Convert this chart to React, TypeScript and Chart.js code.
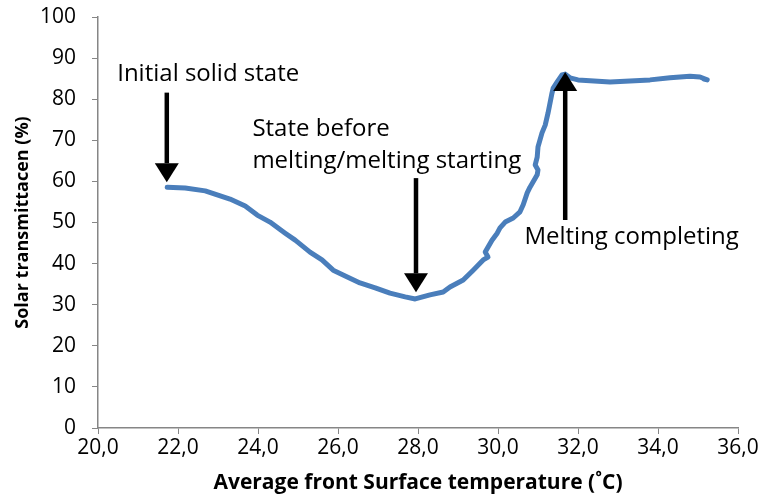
import React, { useEffect, useRef } from "react";
import { Chart, registerables } from "chart.js";

Chart.register(...registerables);

const temperature = [
  21.73, 22.18, 22.68, 23.3, 23.68, 23.98, 24.3, 24.68, 24.93, 25.3, 25.6, 25.88,
  26.18, 26.55, 26.93, 27.3, 27.68, 27.93, 28.3, 28.63, 28.8, 29.13, 29.38, 29.55,
  29.63, 29.75, 29.68, 29.85, 29.98, 30.05, 30.18, 30.38, 30.55, 30.63, 30.73, 30.8,
  30.98, 31.0, 30.93, 30.98, 31.0, 31.1, 31.18, 31.25, 31.35, 31.38, 31.48, 31.6,
  31.68, 31.8, 32.0, 32.8, 33.3, 33.8, 34.3, 34.8, 35.05, 35.23, 35.15,
];
const transmittance = [
  58.6, 58.4, 57.7, 55.7, 54.0, 51.8, 50.1, 47.4, 45.7, 42.8, 40.9, 38.4,
  37.0, 35.3, 34.1, 32.8, 31.9, 31.4, 32.4, 33.1, 34.3, 36.0, 38.4, 40.1,
  40.9, 41.6, 42.8, 45.7, 47.4, 48.7, 50.1, 51.1, 52.6, 54.3, 57.2, 58.6,
  61.6, 62.8, 64.0, 65.9, 68.4, 71.8, 73.7, 76.6, 81.5, 82.7, 84.2, 85.9,
  86.1, 85.2, 84.7, 84.2, 84.4, 84.7, 85.2, 85.6, 85.4, 84.7, 84.9,
];

// Annotation arrows: x, from y (tail), to y (tip) in data units
const arrowX = [21.72, 27.95, 31.68];
const arrowFrom = [81.6, 60.8, 50.6];
const arrowTo = [59.8, 33.0, 86.6];

// Annotation texts: lines, anchor x (left edge), y (centre of each line) in data units
const noteTexts = [
  ["Initial solid state"],
  ["State before", "melting/melting starting"],
  ["Melting completing"],
];
const noteX = [20.48, 23.86, 30.66];
const noteY = [[86.0], [72.7, 64.9], [46.4]];

const xTicksMin = 20;
const xTicksMax = 36;
const yTicksMin = 0;
const yTicksMax = 100;

const FONT = "'Open Sans', sans-serif";

const annotationPlugin = {
  id: "notes",
  afterDatasetsDraw(chart: any) {
    const ctx = chart.ctx as CanvasRenderingContext2D;
    const xs = chart.scales.x;
    const ys = chart.scales.y;
    ctx.save();
    ctx.fillStyle = "#000";
    ctx.strokeStyle = "#000";
    for (let i = 0; i < arrowX.length; i++) {
      const px = xs.getPixelForValue(arrowX[i]);
      const y0 = ys.getPixelForValue(arrowFrom[i]);
      const y1 = ys.getPixelForValue(arrowTo[i]);
      const dir = y1 > y0 ? 1 : -1;
      const headLen = 19;
      const headHalf = 12;
      ctx.lineWidth = 4.5;
      ctx.beginPath();
      ctx.moveTo(px, y0);
      ctx.lineTo(px, y1 - dir * headLen);
      ctx.stroke();
      ctx.beginPath();
      ctx.moveTo(px, y1);
      ctx.lineTo(px - headHalf, y1 - dir * headLen);
      ctx.lineTo(px + headHalf, y1 - dir * headLen);
      ctx.closePath();
      ctx.fill();
    }
    ctx.font = `24px ${FONT}`;
    ctx.textAlign = "left";
    ctx.textBaseline = "middle";
    for (let i = 0; i < noteTexts.length; i++) {
      const px = xs.getPixelForValue(noteX[i]);
      noteTexts[i].forEach((line, j) => {
        ctx.fillText(line, px, ys.getPixelForValue(noteY[i][j]));
      });
    }
    ctx.restore();
  },
};

export default function App() {
  const ref = useRef<HTMLCanvasElement | null>(null);
  useEffect(() => {
    if (!ref.current) return;
    const chart = new Chart(ref.current, {
      type: "scatter",
      data: {
        datasets: [
          {
            data: temperature.map((t, i) => ({ x: t, y: transmittance[i] })),
            showLine: true,
            borderColor: "#4A7EBB",
            backgroundColor: "#4A7EBB",
            borderWidth: 5,
            pointRadius: 0,
            tension: 0,
            borderCapStyle: "round",
            borderJoinStyle: "round",
          },
        ],
      },
      options: {
        animation: false,
        responsive: false,
        maintainAspectRatio: false,
        layout: { padding: { top: 17, right: 26, left: 12, bottom: 4 } },
        plugins: { legend: { display: false }, tooltip: { enabled: false } },
        scales: {
          x: {
            type: "linear",
            min: xTicksMin,
            max: xTicksMax,
            afterFit: (s: any) => {
              s.height = 68;
              s.paddingLeft = 0;
              s.paddingRight = 0;
            },
            ticks: {
              stepSize: 2,
              color: "#000",
              font: { family: FONT, size: 21 },
              padding: 1,
              callback: (v: any) => Number(v).toFixed(1).replace(".", ","),
            },
            grid: {
              drawOnChartArea: false,
              drawTicks: true,
              tickLength: 6,
              color: "#868686",
            },
            border: { color: "#868686", width: 1.5 },
            title: {
              display: true,
              text: "Average front Surface temperature (˚C)",
              color: "#000",
              font: { family: FONT, size: 21, weight: "bold" },
              padding: { top: 0, bottom: 0 },
            },
          },
          y: {
            type: "linear",
            min: yTicksMin,
            max: yTicksMax,
            afterFit: (s: any) => {
              s.width = 86;
              s.paddingTop = 0;
              s.paddingBottom = 0;
            },
            ticks: {
              stepSize: 10,
              color: "#000",
              font: { family: FONT, size: 21 },
              padding: 16,
            },
            grid: {
              drawOnChartArea: false,
              drawTicks: true,
              tickLength: 6,
              color: "#868686",
            },
            border: { color: "#868686", width: 1.5 },
            title: {
              display: true,
              text: "Solar transmittacen (%)",
              color: "#000",
              font: { family: FONT, size: 18, weight: "bold" },
              padding: { top: 0, bottom: 0 },
            },
          },
        },
      },
      plugins: [annotationPlugin],
    });
    return () => chart.destroy();
  }, []);
  return (
    <div style={{ position: "fixed", left: 0, top: 0, width: 764, height: 500, background: "#fff" }}>
      <canvas ref={ref} width={764} height={500} style={{ width: 764, height: 500 }} />
    </div>
  );
}
